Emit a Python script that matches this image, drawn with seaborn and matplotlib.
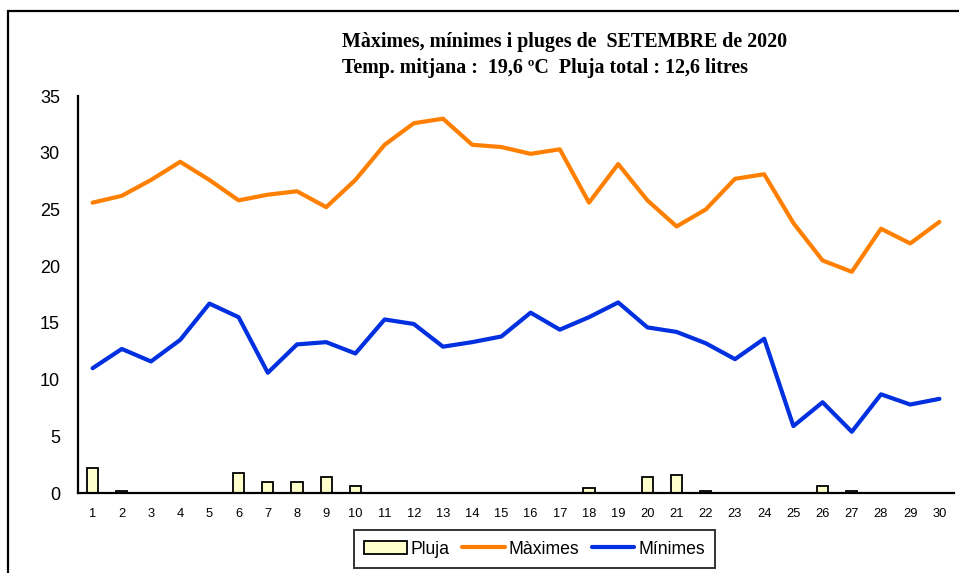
import matplotlib
matplotlib.use('Agg')
import matplotlib.pyplot as plt
from matplotlib.patches import Rectangle
import numpy as np
import seaborn as sns
import pandas as pd

# dades de setembre 2020
dies = list(range(1, 31))
maximes = [25.6, 26.2, 27.6, 29.2, 27.6, 25.8, 26.3, 26.6, 25.2, 27.6,
           30.7, 32.6, 33.0, 30.7, 30.5, 29.9, 30.3, 25.6, 29.0, 25.8,
           23.5, 25.0, 27.7, 28.1, 23.8, 20.5, 19.5, 23.3, 22.0, 23.9]
minimes = [11.0, 12.7, 11.6, 13.5, 16.7, 15.5, 10.6, 13.1, 13.3, 12.3,
           15.3, 14.9, 12.9, 13.3, 13.8, 15.9, 14.4, 15.5, 16.8, 14.6,
           14.2, 13.2, 11.8, 13.6, 5.9, 8.0, 5.4, 8.7, 7.8, 8.3]
pluja = [2.2, 0.2, 0, 0, 0, 1.8, 1.0, 1.0, 1.4, 0.6,
         0, 0, 0, 0, 0, 0, 0, 0.4, 0, 1.4,
         1.6, 0.2, 0, 0, 0, 0.6, 0.2, 0, 0, 0]

titol1 = 'Màximes, mínimes i pluges de  SETEMBRE de 2020'
titol2 = 'Temp. mitjana :  19,6 ºC  Pluja total : 12,6 litres'

df = pd.DataFrame({'dia': dies, 'max': maximes, 'min': minimes, 'pluja': pluja})

sns.set_style('white')
plt.rcParams['font.family'] = ['Liberation Sans', 'DejaVu Sans']
plt.rcParams['text.color'] = 'black'
plt.rcParams['xtick.color'] = 'black'
plt.rcParams['ytick.color'] = 'black'

W, H = 959, 573
fig = plt.figure(figsize=(W / 100, H / 100), dpi=100)
ax = fig.add_axes([78 / W, 1 - 493 / H, (954 - 78) / W, (493 - 96) / H])

sns.barplot(data=df, x='dia', y='pluja', native_scale=True, color='#FFFFCC',
            saturation=1, edgecolor='black', linewidth=1.3, width=0.38,
            errorbar=None, label='Pluja', ax=ax, zorder=2)
sns.lineplot(data=df, x='dia', y='max', color='#FF8000', linewidth=3,
             label='Màximes', ax=ax, zorder=3)
sns.lineplot(data=df, x='dia', y='min', color='#0030E0', linewidth=3,
             label='Mínimes', ax=ax, zorder=3)
ax.get_legend().remove()

ax.set_xlim(0.5, 30.5)
ax.set_ylim(0, 35)
ax.set_yticks(range(0, 36, 5))
ax.set_xticks(dies)
ax.set_xticks(np.arange(0.5, 31, 1), minor=True)
ax.set_xlabel('')
ax.set_ylabel('')
ax.tick_params(axis='x', which='major', length=0, labelsize=9.3, pad=11)
ax.tick_params(axis='x', which='minor', length=4, width=1.4, direction='out', color='black')
ax.tick_params(axis='y', length=4, width=1.4, direction='out', color='black', labelsize=13, pad=9)
sns.despine(ax=ax)
for s in ('left', 'bottom'):
    ax.spines[s].set_linewidth(1.6)
    ax.spines[s].set_color('black')

# titol
fig.text(342 / W, 1 - 47 / H, titol1, family='Liberation Serif', weight='bold',
         fontsize=14.4, ha='left', va='baseline', color='black')
fig.text(342 / W, 1 - 73 / H, titol2, family='Liberation Serif', weight='bold',
         fontsize=14.4, ha='left', va='baseline', color='black')

# marc exterior
fig.patches.append(Rectangle((8 / W, -0.1), 1.2, 1.1 - 11 / H, transform=fig.transFigure,
                             fill=False, edgecolor='black', linewidth=1.6, figure=fig))

handles, labels = ax.get_legend_handles_labels()
order = [labels.index(l) for l in ('Pluja', 'Màximes', 'Mínimes')]
leg = fig.legend([handles[i] for i in order], [labels[i] for i in order],
                 loc='center', bbox_to_anchor=(534.5 / W, 1 - 549 / H), ncol=3,
                 fontsize=12.7, frameon=True, fancybox=False, edgecolor='black',
                 handlelength=2.4, handletextpad=0.2, columnspacing=0.75,
                 borderpad=0.6, borderaxespad=0)
leg.get_frame().set_linewidth(1.4)

fig.savefig('out.png', dpi=100)
